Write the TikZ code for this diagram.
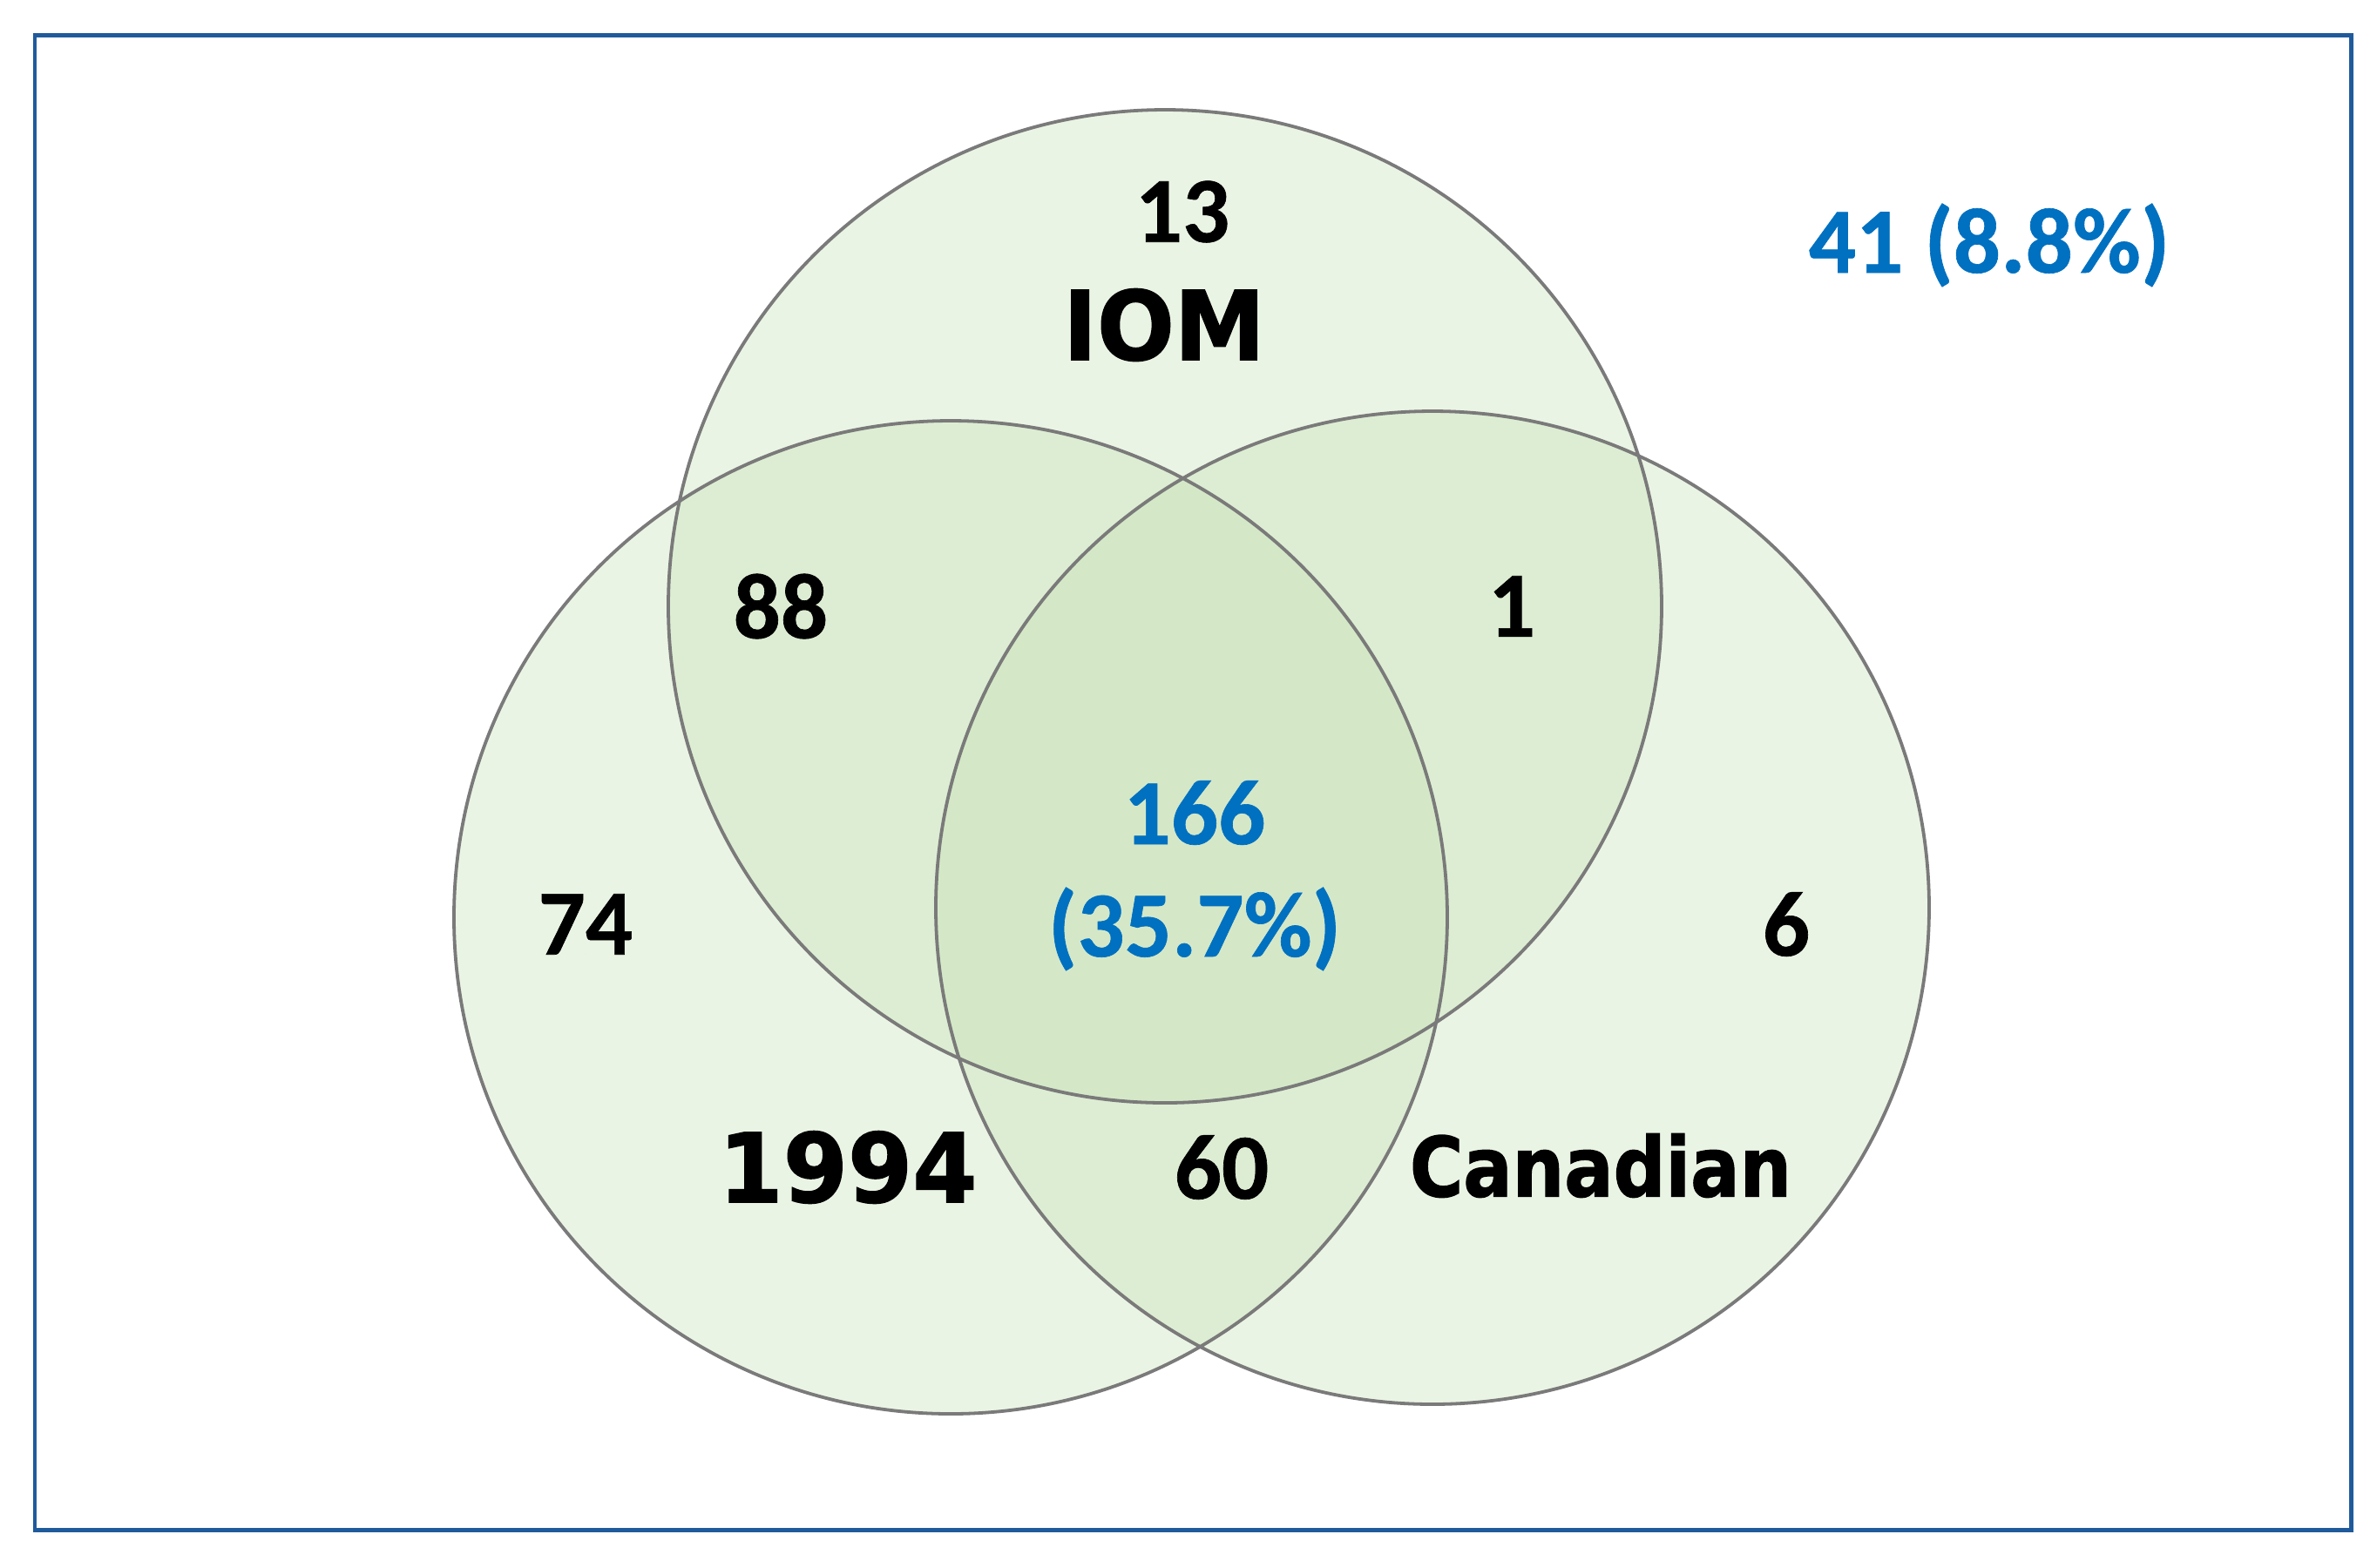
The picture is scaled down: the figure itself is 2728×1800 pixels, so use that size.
\documentclass[tikz,border=0pt]{standalone}
\usepackage{fontspec}
\usepackage{graphicx}
\setmainfont{Carlito}[BoldFeatures={FakeBold=0.6}]
\newfontfamily\heavyfont{DejaVu Sans Bold}[FakeBold=1.4]
\definecolor{vfill}{HTML}{C5E0B4}
\definecolor{vline}{HTML}{7A7A7A}
\definecolor{frameblue}{HTML}{1F5B9B}
\definecolor{numblue}{HTML}{0070C0}
\begin{document}
\begin{tikzpicture}[x=0.1pt,y=-0.1pt,
  setfill/.style={fill=vfill, fill opacity=0.36},
  setline/.style={draw=vline, line width=0.38pt},
  num/.style={font=\fontsize{10.7pt}{12pt}\selectfont\bfseries, text=black, inner sep=0pt},
  bluenum/.style={num, text=numblue},
  setlabel/.style={font=\heavyfont, inner sep=0pt, text=black}]
\useasboundingbox (0,0) rectangle (2728,1800);
% frame
\draw[frameblue, line width=0.5pt] (40,40) rectangle (2698,1756);
% circle centres
\coordinate (ciom) at (1337,696);
\coordinate (cyear) at (1091,1053);
\coordinate (ccan) at (1644,1042);
% fills
\fill[setfill] (ciom) circle[radius=570];
\fill[setfill] (cyear) circle[radius=570];
\fill[setfill] (ccan) circle[radius=570];
% outlines
\draw[setline] (ciom) circle[radius=570];
\draw[setline] (cyear) circle[radius=570];
\draw[setline] (ccan) circle[radius=570];
% labels
\node[num] (n13) at (1357,243) {13};
\node[setlabel] (liom) at (1336,373) {\scalebox{0.95}[1]{\fontsize{11pt}{12pt}\selectfont IOM}};
\node[bluenum, anchor=base] (nout) at (2283,313) {41 (8.8\%)};
\node[num] (n88) at (896,696) {88};
\node[num] (n1) at (1735,696) {1};
\node[bluenum] (n166) at (1371,933) {166};
\node[bluenum, anchor=base] (npct) at (1371,1098) {(35.7\%)};
\node[num] (n74) at (672,1061) {74};
\node[num] (n6) at (2050,1061) {6};
\node[setlabel] (lyear) at (973,1340) {\scalebox{0.97}[1]{\fontsize{11pt}{12pt}\selectfont 1994}};
\node[num] (n60) at (1402,1340) {60};
\node[setlabel] (lcan) at (1837,1338) {\scalebox{0.88}[1]{\fontsize{9.5pt}{11pt}\selectfont Canadian}};
\end{tikzpicture}
\end{document}
